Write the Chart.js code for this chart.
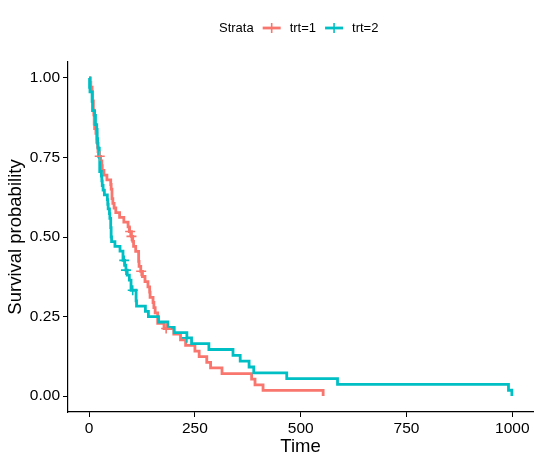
<!DOCTYPE html>
<html>
<head>
<meta charset="utf-8">
<script src="https://cdn.jsdelivr.net/npm/chart.js@4.4.1/dist/chart.umd.min.js"></script>
<style>
    html, body { margin: 0; padding: 0; background: #fff; }
    #wrap { width: 541px; height: 464px; }
</style>
</head>
<body>
<div id="wrap"><canvas id="kmChart"></canvas></div>
<script>
// 생존 곡선 데이터 (Kaplan-Meier 계단)
const strata = ['trt=1', 'trt=2'];
const colors = ['#F8766D', '#00BFC4'];

const time1 = [0, 3, 4, 7, 8, 10, 11, 12, 13, 16, 18, 20, 21, 22, 27, 30, 31, 35, 42, 51, 52, 54, 56, 59, 63, 72, 82, 92, 95, 100,
    103, 105, 110, 117, 118, 122, 126, 132, 139, 143, 144, 151, 153, 156, 162, 177, 200, 216, 228, 250, 260, 278, 287, 314, 384, 392, 411, 553];
const surv1 = [1, 0.9855, 0.9710, 0.9565, 0.9275, 0.8986, 0.8841, 0.8551, 0.8406, 0.8261, 0.7971, 0.7826, 0.7681, 0.7536, 0.7389, 0.7241, 0.7093, 0.6945, 0.6797, 0.6650,
    0.6502, 0.6206, 0.6059, 0.5911, 0.5763, 0.5615, 0.5468, 0.5320, 0.5172, 0.5020,
    0.4863, 0.4706, 0.4549, 0.4236, 0.4079, 0.3922, 0.3758, 0.3595, 0.3432, 0.3268, 0.3105, 0.2941, 0.2778, 0.2615, 0.2288, 0.2124, 0.1947, 0.1770, 0.1593, 0.1416,
    0.1239, 0.1062, 0.0885, 0.0708, 0.0531, 0.0354, 0.0177, 0];
const censTime1 = [25, 97, 100, 123, 182];
const censSurv1 = [0.7536, 0.5172, 0.5020, 0.3922, 0.2124];

const time2 = [0, 1, 2, 7, 8, 13, 15, 18, 19, 20, 21, 24, 25, 29, 30, 31, 33, 36, 43, 44, 45, 48, 49, 51, 52, 53, 61, 73, 80, 84,
    87, 90, 95, 99, 111, 112, 133, 140, 164, 186, 201, 231, 242, 283, 340, 357, 378, 389, 467, 587, 991, 999];
const surv2 = [1, 0.9706, 0.9559, 0.9265, 0.8971, 0.8824, 0.8529, 0.8382, 0.8088, 0.7941, 0.7794, 0.75, 0.7059, 0.6912, 0.6765, 0.6618, 0.6471, 0.6324, 0.6176, 0.6029,
    0.5882, 0.5735, 0.5588, 0.5294, 0.5, 0.4853, 0.4706, 0.4559, 0.4265, 0.4112,
    0.3960, 0.3802, 0.3643, 0.3327, 0.2994, 0.2828, 0.2661, 0.2495, 0.2329, 0.2162, 0.1996, 0.1830, 0.1647, 0.1464, 0.1281, 0.1098, 0.0915, 0.0732, 0.0549, 0.0366,
    0.0183, 0];
const censTime2 = [83, 87, 103, 231];
const censSurv2 = [0.4265, 0.3960, 0.3327, 0.1830];

const xTicks = [0, 250, 500, 750, 1000];
const yTicks = [0, 0.25, 0.5, 0.75, 1];

const FONT = 'Liberation Sans, Arial, Helvetica, sans-serif';

const toXY = (xs, ys) => xs.map((x, i) => ({ x: x, y: ys[i] }));

// 범례 (Strata + 기호)
const legendPlugin = {
    id: 'strataLegend',
    afterDraw(chart) {
        const ctx = chart.ctx;
        ctx.save();
        ctx.font = '13px ' + FONT;
        ctx.fillStyle = '#000';
        ctx.textBaseline = 'middle';
        const y = 28;
        let x = 219;
        ctx.fillText('Strata', x, y);
        x += ctx.measureText('Strata').width + 9;
        strata.forEach((name, i) => {
            ctx.strokeStyle = colors[i];
            ctx.lineWidth = 2.8;
            ctx.beginPath();
            ctx.moveTo(x, y);
            ctx.lineTo(x + 18, y);
            ctx.stroke();
            ctx.lineWidth = 1.6;
            ctx.beginPath();
            ctx.moveTo(x + 9, y - 5);
            ctx.lineTo(x + 9, y + 5);
            ctx.stroke();
            x += 27;
            ctx.fillText(name, x, y);
            x += ctx.measureText(name).width + 9;
        });
        ctx.restore();
    }
};

// order 값이 작을수록 위에 그려짐 (trt=2 가 trt=1 위)
const lineDs = (label, xs, ys, color, order) => ({
    label: label,
    data: toXY(xs, ys),
    borderColor: color,
    backgroundColor: color,
    borderWidth: 2.8,
    stepped: 'before',
    pointRadius: 0,
    fill: false,
    order: order,
});

const censDs = (label, xs, ys, color, order) => ({
    label: label,
    type: 'scatter',
    data: toXY(xs, ys),
    borderColor: color,
    backgroundColor: color,
    pointStyle: 'cross',
    pointRadius: 5,
    pointBorderWidth: 1.6,
    showLine: false,
    order: order,
});

const kmChart = new Chart(document.getElementById('kmChart').getContext('2d'), {
    type: 'line',
    data: {
        datasets: [
            lineDs(strata[0], time1, surv1, colors[0], 3),
            lineDs(strata[1], time2, surv2, colors[1], 2),
            censDs(strata[0] + ' censor', censTime1, censSurv1, colors[0], 1),
            censDs(strata[1] + ' censor', censTime2, censSurv2, colors[1], 0),
        ]
    },
    options: {
        responsive: true,
        maintainAspectRatio: false,
        animation: false,
        layout: { padding: { top: 62, right: 8, left: 0, bottom: 0 } },
        plugins: {
            legend: { display: false },
            tooltip: { enabled: false },
        },
        scales: {
            x: {
                type: 'linear',
                min: -49.95,
                max: 1048.95,
                afterBuildTicks: s => { s.ticks = xTicks.map(v => ({ value: v })); },
                afterFit: s => { s.height = 52; },
                grid: { drawOnChartArea: false, drawTicks: true, tickLength: 5, tickColor: '#000', tickWidth: 1 },
                border: { display: true, color: '#000', width: 1.2 },
                ticks: { color: '#000', padding: 2, maxRotation: 0, font: { family: FONT, size: 15.5 }, callback: v => String(v) },
                title: { display: true, text: 'Time', color: '#000', padding: { top: 0, bottom: 6 }, font: { family: FONT, size: 18.5 } },
            },
            y: {
                type: 'linear',
                min: -0.05,
                max: 1.05,
                afterBuildTicks: s => { s.ticks = yTicks.map(v => ({ value: v })); },
                afterFit: s => { s.width = 68; },
                grid: { drawOnChartArea: false, drawTicks: true, tickLength: 5, tickColor: '#000', tickWidth: 1 },
                border: { display: true, color: '#000', width: 1.2 },
                ticks: { color: '#000', padding: 3, font: { family: FONT, size: 15.5 }, callback: v => Number(v).toFixed(2) },
                title: { display: true, text: 'Survival probability', color: '#000', padding: { top: 5, bottom: 0 }, font: { family: FONT, size: 18.5 } },
            }
        }
    },
    plugins: [legendPlugin],
});
</script>
</body>
</html>
